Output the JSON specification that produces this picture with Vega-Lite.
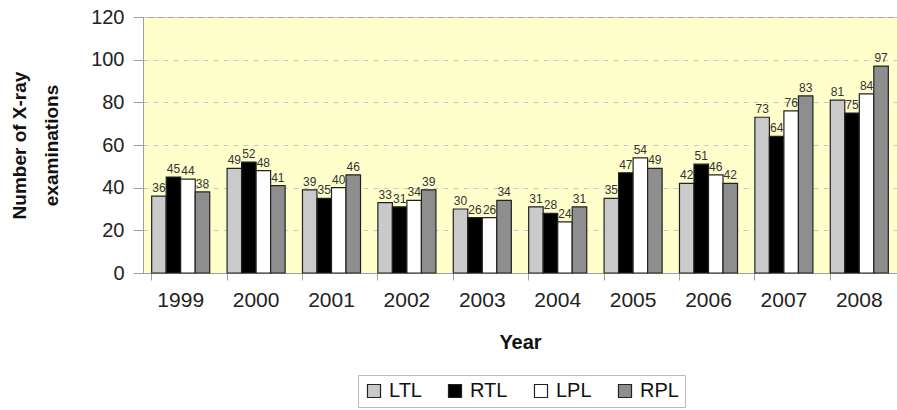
{
  "$schema": "https://vega.github.io/schema/vega-lite/v6.json",
  "width": 754,
  "height": 256,
  "autosize": {"type": "none"},
  "padding": {"left": 143, "top": 17, "right": 0, "bottom": 137},
  "background": "white",
  "config": {
    "font": "Liberation Sans",
    "view": {"fill": "#FFFFCC", "stroke": "#A0A0A0", "strokeWidth": 1}
  },
  "data": {
    "values": [
      {"Year": "1999", "Series": "LTL", "Value": 36},
      {"Year": "1999", "Series": "RTL", "Value": 45},
      {"Year": "1999", "Series": "LPL", "Value": 44},
      {"Year": "1999", "Series": "RPL", "Value": 38},
      {"Year": "2000", "Series": "LTL", "Value": 49},
      {"Year": "2000", "Series": "RTL", "Value": 52},
      {"Year": "2000", "Series": "LPL", "Value": 48},
      {"Year": "2000", "Series": "RPL", "Value": 41},
      {"Year": "2001", "Series": "LTL", "Value": 39},
      {"Year": "2001", "Series": "RTL", "Value": 35},
      {"Year": "2001", "Series": "LPL", "Value": 40},
      {"Year": "2001", "Series": "RPL", "Value": 46},
      {"Year": "2002", "Series": "LTL", "Value": 33},
      {"Year": "2002", "Series": "RTL", "Value": 31},
      {"Year": "2002", "Series": "LPL", "Value": 34},
      {"Year": "2002", "Series": "RPL", "Value": 39},
      {"Year": "2003", "Series": "LTL", "Value": 30},
      {"Year": "2003", "Series": "RTL", "Value": 26},
      {"Year": "2003", "Series": "LPL", "Value": 26},
      {"Year": "2003", "Series": "RPL", "Value": 34},
      {"Year": "2004", "Series": "LTL", "Value": 31},
      {"Year": "2004", "Series": "RTL", "Value": 28},
      {"Year": "2004", "Series": "LPL", "Value": 24},
      {"Year": "2004", "Series": "RPL", "Value": 31},
      {"Year": "2005", "Series": "LTL", "Value": 35},
      {"Year": "2005", "Series": "RTL", "Value": 47},
      {"Year": "2005", "Series": "LPL", "Value": 54},
      {"Year": "2005", "Series": "RPL", "Value": 49},
      {"Year": "2006", "Series": "LTL", "Value": 42},
      {"Year": "2006", "Series": "RTL", "Value": 51},
      {"Year": "2006", "Series": "LPL", "Value": 46},
      {"Year": "2006", "Series": "RPL", "Value": 42},
      {"Year": "2007", "Series": "LTL", "Value": 73},
      {"Year": "2007", "Series": "RTL", "Value": 64},
      {"Year": "2007", "Series": "LPL", "Value": 76},
      {"Year": "2007", "Series": "RPL", "Value": 83},
      {"Year": "2008", "Series": "LTL", "Value": 81},
      {"Year": "2008", "Series": "RTL", "Value": 75},
      {"Year": "2008", "Series": "LPL", "Value": 84},
      {"Year": "2008", "Series": "RPL", "Value": 97}
    ]
  },
  "encoding": {
    "x": {
      "field": "Year",
      "type": "nominal",
      "scale": {"paddingInner": 0.23, "paddingOuter": 0.115},
      "axis": {
        "title": "Year",
        "titleFontSize": 20,
        "titleFontWeight": "bold",
        "titleColor": "#111",
        "titlePadding": 22,
        "labelAngle": 0,
        "labelFontSize": 21,
        "labelColor": "#222",
        "labelPadding": 9,
        "bandPosition": 0,
        "tickSize": 7,
        "tickColor": "#A0A0A0",
        "domainColor": "#A0A0A0",
        "grid": false
      }
    },
    "xOffset": {
      "field": "Series",
      "type": "nominal",
      "sort": ["LTL", "RTL", "LPL", "RPL"],
      "scale": {"paddingInner": 0, "paddingOuter": 0}
    },
    "y": {
      "field": "Value",
      "type": "quantitative",
      "scale": {"domain": [0, 120]},
      "axis": {
        "title": ["Number of X-ray", "examinations"],
        "titleFontSize": 19,
        "titleFontWeight": "bold",
        "titleColor": "#111",
        "titleLineHeight": 32,
        "titlePadding": 29,
        "labelFontSize": 20,
        "labelColor": "#222",
        "labelPadding": 9,
        "values": [0, 20, 40, 60, 80, 100, 120],
        "tickSize": 10,
        "tickColor": "#A0A0A0",
        "domainColor": "#A0A0A0",
        "grid": true,
        "gridColor": "#C8C8C8",
        "gridDash": [5, 5]
      }
    }
  },
  "layer": [
    {
      "mark": {"type": "bar", "stroke": "#222", "strokeWidth": 1.2},
      "encoding": {
        "color": {
          "field": "Series",
          "type": "nominal",
          "sort": ["LTL", "RTL", "LPL", "RPL"],
          "scale": {"domain": ["LTL", "RTL", "LPL", "RPL"], "range": ["#CACACA", "#000000", "#FFFFFF", "#8E8E8E"]},
          "legend": {
            "title": null,
            "orient": "none",
            "direction": "horizontal",
            "legendX": 215,
            "legendY": 358,
            "labelFontSize": 20,
            "labelColor": "#111",
            "symbolType": "square",
            "symbolSize": 170,
            "symbolStrokeColor": "#222",
            "symbolStrokeWidth": 1.2,
            "columnPadding": 23,
            "labelOffset": 5,
            "padding": 6,
            "strokeColor": "#BBBBBB",
            "fillColor": "white"
          }
        }
      }
    },
    {
      "mark": {"type": "text", "baseline": "bottom", "dy": -1, "fontSize": 12, "color": "#333"},
      "encoding": {
        "text": {"field": "Value", "type": "quantitative"}
      }
    }
  ]
}
